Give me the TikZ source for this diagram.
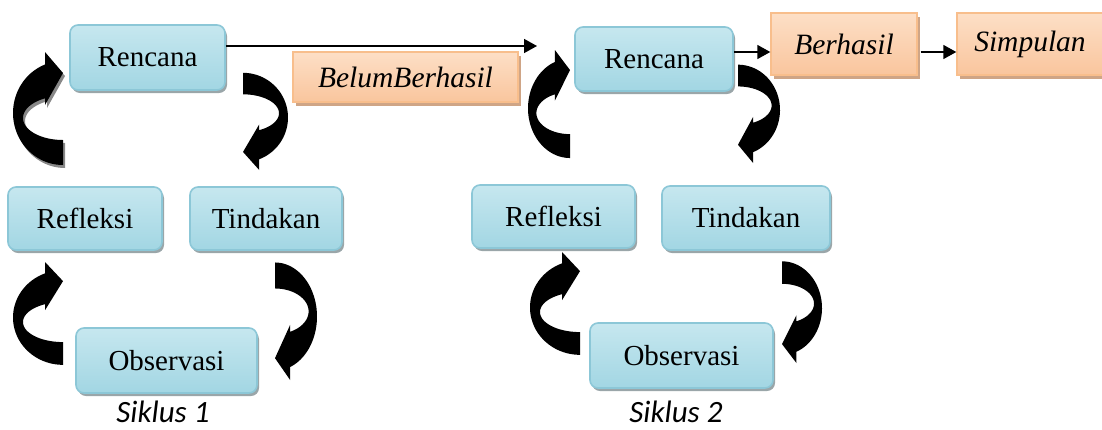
\documentclass[tikz,border=0pt]{standalone}
\usepackage{fontspec}
\setmainfont{Liberation Serif}
\newfontfamily\siklusfont{Carlito}
\usetikzlibrary{arrows.meta,shadows}

\definecolor{blueTop}{HTML}{C6E7EF}
\definecolor{blueMid}{HTML}{DDF1F6}
\definecolor{blueBot}{HTML}{A2D6E3}
\definecolor{blueBorder}{HTML}{8CC7D7}
\definecolor{blueShadow}{HTML}{9AA6A9}
\definecolor{orTop}{HTML}{FDDFC6}
\definecolor{orMid}{HTML}{FEEDE0}
\definecolor{orBot}{HTML}{F9C59D}
\definecolor{orBorder}{HTML}{F8BE8C}
\definecolor{orShadow}{HTML}{CFA586}
\definecolor{arrowShadow}{HTML}{888888}

\newcommand\curvedarrowpath{%
  plot[domain=90:249,samples=50] ({50*cos(\x)},{61+52*sin(\x)})
  -- (-18,0) -- (0,21) -- (-18,53) -- (-18,46.4)
  -- plot[domain=243.3:90,samples=50] ({40*cos(\x)},{66+22*sin(\x)}) -- cycle}

\tikzset{
  bluebox/.style={rounded corners=8pt, draw=blueBorder, line width=1.6pt,
    top color=blueTop, middle color=blueMid, bottom color=blueBot,
    drop shadow={shadow xshift=2pt, shadow yshift=-3pt, fill=blueShadow, opacity=1},
    font=\fontsize{29}{34}\selectfont, inner sep=0pt},
  orbox/.style={draw=orBorder, line width=1.4pt,
    top color=orTop, middle color=orMid, bottom color=orBot,
    drop shadow={shadow xshift=3pt, shadow yshift=-4pt, fill=orShadow, opacity=1},
    font=\itshape\fontsize{29.5}{34}\selectfont, inner sep=0pt},
  conn/.style={line width=1.6pt, -{Triangle[length=13pt,width=14pt]}},
  siklus/.style={font=\siklusfont\itshape\fontsize{31}{36}\selectfont, inner sep=0pt},
  bigarrow/.style={fill=black},
  bigarrowshadow/.style={fill=arrowShadow}
}

\begin{document}
\begin{tikzpicture}[x=1pt,y=-1pt]
\useasboundingbox (0,0) rectangle (1102,429);

% ---------- Cycle 1 boxes ----------
\node[bluebox, minimum width=155pt, minimum height=65pt] (R1) at (147.5,57.5) {Rencana};
\node[bluebox, minimum width=154pt, minimum height=63pt] (F1) at (85,218.5) {Refleksi};
\node[bluebox, minimum width=152pt, minimum height=63pt] (T1) at (266,218.5) {Tindakan};
\node[bluebox, minimum width=181pt, minimum height=65pt] (O1) at (166.5,360.5) {Observasi};
\node[orbox, minimum width=225pt, minimum height=50pt] (BB) at (405.5,77) {BelumBerhasil};
\node[siklus] (S1) at (163,412) {Siklus 1};

% ---------- Cycle 2 boxes ----------
\node[bluebox, minimum width=158pt, minimum height=64pt] (R2) at (654,59) {Rencana};
\node[bluebox, minimum width=163pt, minimum height=63pt] (F2) at (553.5,216.5) {Refleksi};
\node[bluebox, minimum width=168pt, minimum height=64pt] (T2) at (746,218) {Tindakan};
\node[bluebox, minimum width=183pt, minimum height=65pt] (O2) at (681.5,355.5) {Observasi};
\node[orbox, minimum width=146pt, minimum height=62pt] (BH) at (844,44) {Berhasil};
\node[orbox, minimum width=146pt, minimum height=62pt] (SP) at (1030,44) {Simpulan};
\node[siklus] (S2) at (676,412) {Siklus 2};

% ---------- straight connectors ----------
\coordinate (topline) at (0,46);
\coordinate (resline) at (0,52);
\coordinate (freeend) at (537,46);
\draw[conn] (R1.east |- topline) -- (freeend);
\draw[conn] (R2.east |- resline) -- (BH.west |- resline);
\draw[conn, shorten <=3pt] (BH.east |- resline) -- (SP.west |- resline);

% ---------- curved arrows, cycle 1 ----------
\begin{scope}[shift={(65,55)}]
  \fill[bigarrowshadow] \curvedarrowpath;
\end{scope}
\begin{scope}[shift={(63,52)}]
  \fill[bigarrow] \curvedarrowpath;
\end{scope}
\begin{scope}[shift={(243,170)}, xscale=-0.9, yscale=-0.86]
  \fill[bigarrow] \curvedarrowpath;
\end{scope}
\begin{scope}[shift={(63,262)}, yscale=0.91]
  \fill[bigarrow] \curvedarrowpath;
\end{scope}
\begin{scope}[shift={(275,380)}, xscale=-0.84, yscale=-1.04]
  \fill[bigarrow] \curvedarrowpath;
\end{scope}

% ---------- curved arrows, cycle 2 ----------
\begin{scope}[shift={(570,50)}, xscale=0.84, yscale=0.956]
  \fill[bigarrow] \curvedarrowpath;
\end{scope}
\begin{scope}[shift={(738,163)}, xscale=-0.84, yscale=-0.87]
  \fill[bigarrow] \curvedarrowpath;
\end{scope}
\begin{scope}[shift={(580,252)}, yscale=0.91]
  \fill[bigarrow] \curvedarrowpath;
\end{scope}
\begin{scope}[shift={(782,363)}, xscale=-0.8, yscale=-0.9]
  \fill[bigarrow] \curvedarrowpath;
\end{scope}
\end{tikzpicture}
\end{document}
